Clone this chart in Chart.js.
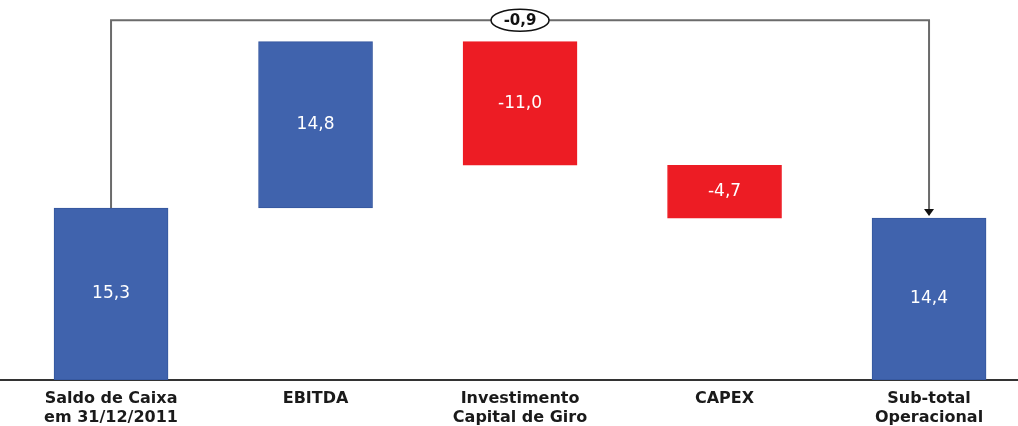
<!DOCTYPE html>
<html>
<head>
<meta charset="utf-8">
<script src="https://cdn.jsdelivr.net/npm/chart.js@4"></script>
<style>
  html, body { margin: 0; padding: 0; background: #fff; }
  #wrap { width: 1018px; height: 426px; }
</style>
</head>
<body>
<div id="wrap"><canvas id="waterfall"></canvas></div>
<script>
// Waterfall data
const categories = [
    ['Saldo de Caixa', 'em 31/12/2011'],
    ['EBITDA'],
    ['Investimento', 'Capital de Giro'],
    ['CAPEX'],
    ['Sub-total', 'Operacional']
];
const openingBalance = 15.3;
const movements = [14.8, -11.0, -4.7];
const closingBalance = 14.4;
const variationLabel = '-0,9';

const blue = '#4063ad';
const red = '#ed1c24';

// build floating bars from the values
const ranges = [[0, openingBalance]];
const colors = [blue];
let level = openingBalance;
movements.forEach(function (m) {
    ranges.push([level, level + m]);
    colors.push(m >= 0 ? blue : red);
    level += m;
});
ranges.push([0, closingBalance]);
colors.push(blue);

const barValues = [openingBalance].concat(movements, [closingBalance]);
const fmt = v => v.toFixed(1).replace('.', ',');

// labels inside bars + connector arrow
const extras = {
    id: 'extras',
    afterDatasetsDraw(chart) {
        const c = chart.ctx;
        const meta = chart.getDatasetMeta(0);
        c.save();
        c.fillStyle = '#fff';
        c.font = '17px "DejaVu Sans"';
        c.textAlign = 'center';
        c.textBaseline = 'middle';
        meta.data.forEach(function (bar, i) {
            c.fillText(fmt(barValues[i]), bar.x, (bar.y + bar.base) / 2);
        });

        const first = meta.data[0], last = meta.data[meta.data.length - 1];
        const topY = chart.scales.y.getPixelForValue(32.0);
        c.strokeStyle = '#6b6b6b';
        c.lineWidth = 2;
        c.beginPath();
        c.moveTo(first.x, first.y);
        c.lineTo(first.x, topY);
        c.lineTo(last.x, topY);
        c.lineTo(last.x, last.y - 8);
        c.stroke();
        c.fillStyle = '#111';
        c.beginPath();
        c.moveTo(last.x - 5, last.y - 9);
        c.lineTo(last.x + 5, last.y - 9);
        c.lineTo(last.x, last.y - 2);
        c.closePath();
        c.fill();

        const mx = (first.x + last.x) / 2;
        c.fillStyle = '#fff';
        c.strokeStyle = '#111';
        c.lineWidth = 1.5;
        c.beginPath();
        c.ellipse(mx, topY, 29, 11, 0, 0, Math.PI * 2);
        c.fill();
        c.stroke();
        c.fillStyle = '#111';
        c.font = 'bold 15px "DejaVu Sans"';
        c.fillText(variationLabel, mx, topY + 1);
        c.restore();
    }
};

new Chart(document.getElementById('waterfall'), {
    type: 'bar',
    data: {
        datasets: [{
            data: ranges.map((r, i) => ({ x: i, y: r })),
            backgroundColor: colors,
            borderColor: colors.map(col => col === blue ? '#34569e' : red),
            borderWidth: 1,
            borderSkipped: false,
            barThickness: 114
        }]
    },
    options: {
        responsive: true,
        maintainAspectRatio: false,
        animation: false,
        layout: { padding: 0 },
        plugins: {
            legend: { display: false },
            tooltip: { enabled: false }
        },
        scales: {
            x: {
                type: 'linear',
                offset: false,
                bounds: 'data',
                min: -0.543,
                max: 4.435,
                afterBuildTicks: axis => { axis.ticks = categories.map((c, i) => ({ value: i })); },
                afterFit: axis => { axis.height = 46; },
                ticks: {
                    autoSkip: false,
                    maxRotation: 0,
                    padding: 9,
                    color: '#1a1a1a',
                    font: { family: 'DejaVu Sans', size: 16, weight: 'bold', lineHeight: 1.2 },
                    callback: v => categories[v]
                },
                grid: { display: false, drawTicks: false },
                border: { color: '#333', width: 2 }
            },
            y: {
                min: 0,
                max: 33.8,
                display: false
            }
        }
    },
    plugins: [extras]
});
</script>
</body>
</html>
